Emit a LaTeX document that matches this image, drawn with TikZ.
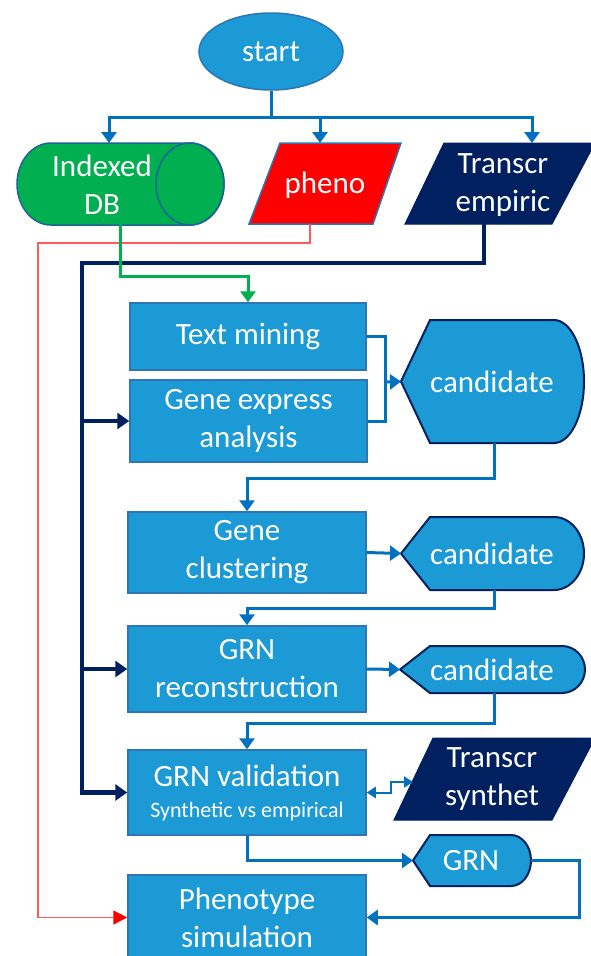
\documentclass[tikz,border=0pt]{standalone}
\usepackage{fontspec}
\setmainfont{Carlito}
\usetikzlibrary{arrows.meta,shapes.geometric}

\definecolor{boxblue}{RGB}{27,154,214}
\definecolor{edgeblue}{RGB}{46,117,182}
\definecolor{linkblue}{RGB}{0,112,192}
\definecolor{navy}{RGB}{0,32,96}
\definecolor{dbgreen}{RGB}{0,176,80}
\definecolor{dbedge}{RGB}{30,100,150}
\definecolor{redline}{RGB}{255,90,90}

% display (output) symbol: #1 name, #2 left point x, #3 slant width,
% #4 top y, #5 bottom y, #6 right x, #7 radius of the rounded end
\newcommand\dispshape[7]{%
  \draw[dispstyle] (#2,{-(#4+#5)/2}) -- (#2+#3,-#4) -- (#6-#7,-#4)
    arc[start angle=90,end angle=-90,x radius=#7,y radius={(#5-#4)/2}]
    -- (#2+#3,-#5) -- cycle;
  \coordinate (#1in) at (#2,{-(#4+#5)/2});
}

\begin{document}
\begin{tikzpicture}[x=1pt,y=1pt,
  bigtext/.style={font=\fontsize{31}{38}\selectfont},
  procbox/.style={rectangle, fill=boxblue, draw=edgeblue, line width=1.5pt,
    text=white, bigtext, align=center, inner sep=0pt},
  lbl/.style={text=white, bigtext, align=center, inner sep=0pt},
  dispstyle/.style={fill=boxblue, draw=navy, line width=2pt},
  link/.style={draw=linkblue, line width=3pt},
  linkarr/.style={link, -{Triangle[length=11pt,width=15pt]}},
  navyline/.style={draw=navy, line width=4.5pt},
  navyarr/.style={navyline, -{Triangle[length=12pt,width=16pt]}},
  greenarr/.style={draw=dbgreen, line width=3pt, -{Triangle[length=11pt,width=15pt]}},
  redarr/.style={draw=redline, line width=1.5pt, -{Triangle[length=14pt,width=14pt,color=red]}},
]
\useasboundingbox (0,0) rectangle (591,-956);
\clip (0,0) rectangle (591,-956);

% ---------- start and the three inputs ----------
\node[ellipse, fill=boxblue, draw=edgeblue, line width=1.5pt,
  minimum width=144pt, minimum height=77pt, inner sep=0pt, text=white, bigtext]
  (start) at (271,-51.5) {start};

% database cylinder
\draw[fill=dbgreen, draw=dbedge, line width=1.5pt]
  (51,-143) -- (190,-143) arc[start angle=90,end angle=-90,x radius=34,y radius=41]
  -- (51,-225) arc[start angle=270,end angle=90,x radius=34,y radius=41] -- cycle;
\draw[draw=dbedge, line width=1.5pt] (190,-184) ellipse[x radius=34,y radius=41];
\node[lbl] (db) at (102,-185) {Indexed\\DB};

% phenotype input
\draw[fill=red, draw=edgeblue, line width=1.5pt]
  (280,-143) -- (401,-143) -- (373,-224) -- (249,-224) -- cycle;
\node[lbl] (pheno) at (325,-185) {pheno};

% empirical transcriptome input
\draw[fill=navy, draw=navy, line width=1pt]
  (444,-143) -- (595,-143) -- (552,-224) -- (405,-224) -- cycle;
\node[lbl] (temp) at (503,-185) {Transcr\\empiric};

\coordinate (split) at (271,-117);
\coordinate (dbtop) at (109,-143);
\coordinate (phtop) at (320,-143);
\coordinate (tetop) at (532,-143);
\draw[link] (start.south) -- (split);
\draw[linkarr] (split) -| (dbtop);
\draw[linkarr] (split) -| (phtop);
\draw[linkarr] (split) -| (tetop);

% ---------- process boxes ----------
\node[procbox, minimum width=236pt, minimum height=67pt] (tm) at (248,-336.5) {Text mining};
\node[procbox, minimum width=237pt, minimum height=82pt] (gex) at (248.5,-421) {Gene express\\analysis};
\node[procbox, minimum width=238pt, minimum height=81pt] (gc) at (247,-552.5) {Gene\\clustering};
\node[procbox, minimum width=238pt, minimum height=86pt] (rec) at (247,-669) {GRN\\reconstruction};
\node[procbox, minimum width=238pt, minimum height=85pt] (val) at (247,-792.5)
  {GRN validation\\[-7pt]{\fontsize{22}{26}\selectfont Synthetic vs empirical}};
\node[procbox, minimum width=238pt, minimum height=85pt] (phen) at (247,-917.5) {Phenotype\\simulation};

% ---------- output symbols ----------
\dispshape{cA}{401}{29}{320}{443}{584}{30}
\node[lbl] (candA) at (492,-382) {candidate};
\dispshape{cB}{401}{29}{517}{590}{584}{30}
\node[lbl] (candB) at (492,-553.5) {candidate};
\dispshape{cC}{400}{30}{646}{693}{585}{23}
\node[lbl] (candC) at (492,-669.5) {candidate};
\dispshape{cG}{413}{17}{835}{886}{531}{20}
\node[lbl] (grn) at (471,-860.5) {GRN};

% synthetic transcriptome
\draw[fill=navy, draw=navy, line width=1pt]
  (433,-738) -- (595,-738) -- (552,-820) -- (394,-820) -- cycle;
\node[lbl] (tsyn) at (492,-779) {Transcr\\synthet};

% ---------- connectors ----------
% phenotype input to the simulation
\coordinate (phout) at (310,-224);
\coordinate (redturn) at (38,-243);
\draw[redarr] (phout) |- (redturn) |- (phen.west);

% empirical data bus
\coordinate (teout) at (484,-224);
\coordinate (navyturn) at (82,-263);
\draw[navyarr] (teout) |- (navyturn) |- (val.west);
\draw[navyarr] (navyturn |- gex.west) -- (gex.west);
\draw[navyarr] (navyturn |- rec.west) -- (rec.west);

% database to text mining
\coordinate (dbout) at (120,-225);
\coordinate (gturn) at (120,-276);
\draw[greenarr] (dbout) -- (gturn) -| (tm.north);

% merge of the first two steps
\coordinate (merge) at (385,-382);
\draw[link] (tm.east) -| (merge) |- (gex.east);
\draw[linkarr] (merge) -- (cAin);

\coordinate (cAout) at (494,-443);
\draw[linkarr] (cAout) -- ++(0,-35) -| (gc.north);
\draw[linkarr] (gc.east) -- (cBin);

\coordinate (cBout) at (494,-590);
\draw[linkarr] (cBout) -- ++(0,-18) -| (rec.north);
\draw[linkarr] (rec.east) -- (cCin);

\coordinate (cCout) at (494,-693);
\draw[linkarr] (cCout) -- ++(0,-30) -| (val.north);

% validation against synthetic data
\coordinate (synin) at (413,-782);
\draw[draw=linkblue, line width=2pt,
  {Triangle[length=9pt,width=11pt]}-{Triangle[length=9pt,width=11pt]}]
  (val.east) -- ++(24,0) |- (synin);

\draw[linkarr] (val.south) |- (cGin);
\coordinate (grnout) at (531,-860.5);
\draw[linkarr] (grnout) -- ++(48,0) |- (phen.east);
\end{tikzpicture}
\end{document}
